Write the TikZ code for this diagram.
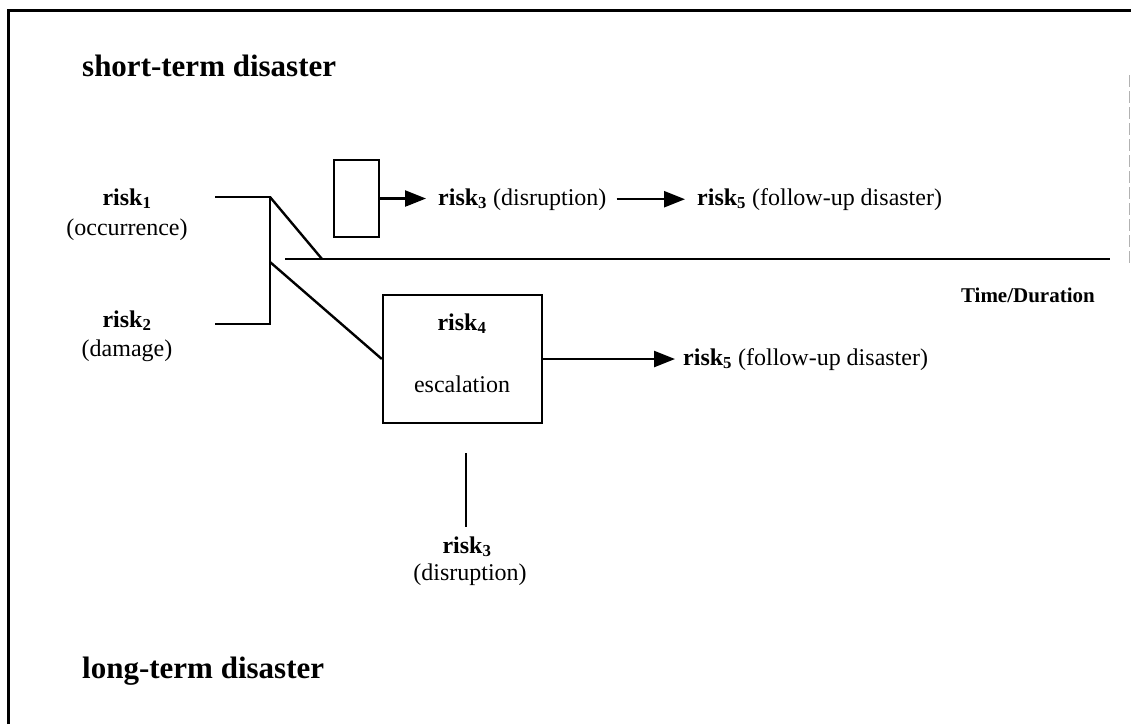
\documentclass[tikz,border=0pt]{standalone}
\usepackage{fontspec}
\setmainfont{Liberation Serif}
\usetikzlibrary{arrows.meta}
\tikzset{
  lbl/.style={inner sep=0pt, font=\fontsize{24}{29}\selectfont},
  blbl/.style={inner sep=0pt, font=\fontsize{24}{29}\selectfont\bfseries},
  heading/.style={inner sep=0pt, font=\fontsize{31}{36}\selectfont\bfseries},
  line/.style={line width=2.4pt},
  arr/.style={line width=2.4pt, shorten >=12pt, -{Triangle[length=21pt,width=16pt]}},
  boxnode/.style={draw, line width=2.4pt, inner sep=0pt},
}
\begin{document}
\begin{tikzpicture}[x=1pt, y=-1pt]
    \useasboundingbox (0,0) rectangle (1131,724);
    % frame
    \draw[line width=3pt] (8,724) -- (8,10) -- (1131,10);
    \draw[gray!60, line width=0.8pt, dash pattern=on 12pt off 4pt] (1129,75) -- (1129,265);

    % headings
    \node[heading, anchor=base west] (short) at (82,76) {short-term disaster};
    \node[heading, anchor=base west] (long) at (82,678) {long-term disaster};

    % starting risks
    \node[blbl, anchor=base] (risk1) at (127,205) {risk\textsubscript{1}};
    \node[lbl, anchor=base] (occ) at (127,235) {(occurrence)};
    \node[blbl, anchor=base] (risk2) at (127,327) {risk\textsubscript{2}};
    \node[lbl, anchor=base] (dam) at (127,356) {(damage)};

    \coordinate (in1) at (215,197);
    \coordinate (in2) at (215,324);
    \coordinate (top) at (270,197);
    \coordinate (bot) at (270,324);
    \coordinate (fork) at (270,262);
    \draw[line] (in1) -- (top) -- (bot) -- (in2);

    % time axis
    \coordinate (tstart) at (285,259);
    \coordinate (hit) at (322,259);
    \coordinate (tend) at (1110,259);
    \draw[line width=2.6pt] (tstart) -- (tend);
    \draw[line] (top) -- (hit);
    \node[blbl, font=\fontsize{21}{25}\selectfont\bfseries, anchor=base east] (time) at (1095,302) {Time/Duration};

    % short-term branch
    \node[boxnode, minimum width=45pt, minimum height=77pt] (sbox) at (356.5,198.5) {};
    \node[lbl, anchor=base west] (disr1) at (438,205) {\textbf{risk\textsubscript{3}} (disruption)};
    \node[lbl, anchor=base west] (follow1) at (697,205) {\textbf{risk\textsubscript{5}} (follow-up disaster)};
    \draw[arr] (sbox.east) -- (sbox.east -| disr1.west);
    \draw[arr, shorten <=10pt] (disr1.east) -- (disr1.east -| follow1.west);

    % long-term branch
    \node[boxnode, minimum width=159pt, minimum height=128pt] (esc) at (462.5,359) {};
    \node[blbl, anchor=base] (risk4) at (462,330) {risk\textsubscript{4}};
    \node[lbl, anchor=base] (escal) at (462,392) {escalation};
    \draw[line] (fork) -- (esc.west);
    \node[lbl, anchor=base west] (follow2) at (683,365) {\textbf{risk\textsubscript{5}} (follow-up disaster)};
    \draw[arr, shorten >=8pt] (esc.east) -- (esc.east -| follow2.west);

    \coordinate (vtop) at (466,453);
    \node[blbl, anchor=base] (risk3) at (467,553) {risk\textsubscript{3}};
    \node[lbl, anchor=base] (disr2) at (470,580) {(disruption)};
    \draw[line, shorten >=9pt] (vtop) -- (vtop |- risk3.north);
\end{tikzpicture}
\end{document}
